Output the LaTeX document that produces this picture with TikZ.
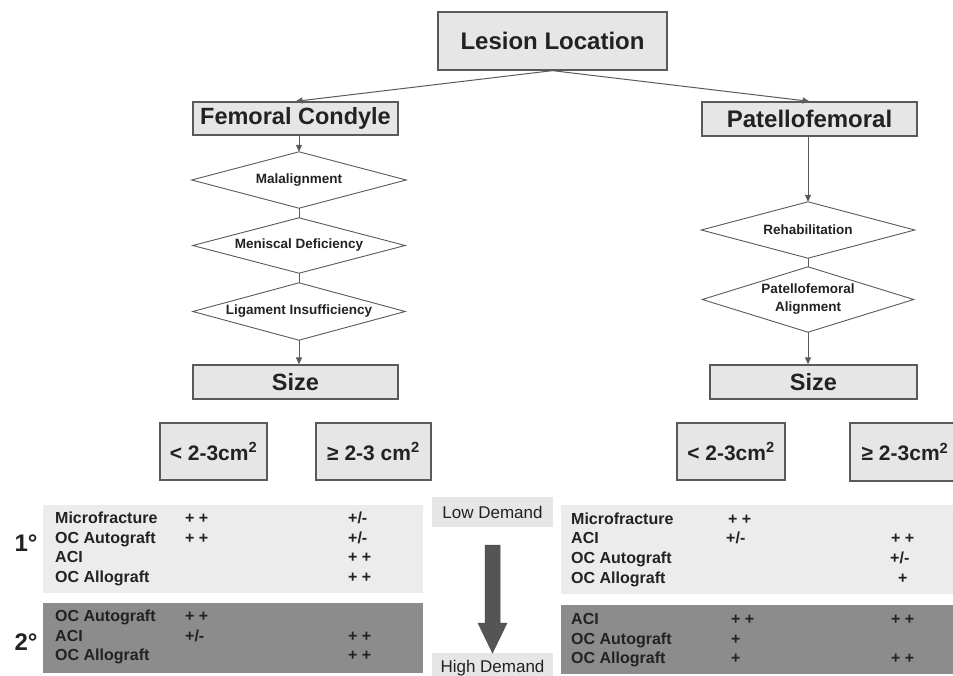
\documentclass[tikz,border=0pt]{standalone}
\usepackage{fontspec}
\setmainfont{Liberation Sans}
\usetikzlibrary{arrows.meta}
\definecolor{boxfill}{HTML}{E6E6E6}
\definecolor{boxline}{HTML}{5A5A5A}
\definecolor{lightpanel}{HTML}{ECECEC}
\definecolor{darkpanel}{HTML}{8C8C8C}
\definecolor{txt}{HTML}{222222}
\definecolor{arrowfill}{HTML}{555555}
\begin{document}
\begin{tikzpicture}[x=1pt,y=-1pt,
  box/.style={draw=boxline,fill=boxfill,line width=1.3pt,inner sep=0pt,text=txt,font=\bfseries\fontsize{23.5}{26}\selectfont},
  sbox/.style={box,font=\bfseries\fontsize{21}{24}\selectfont},
  diam/.style={rectangle,inner sep=0pt,text=txt,align=center,font=\bfseries\fontsize{13.5}{18}\selectfont},
  dline/.style={draw=boxline,line width=0.9pt,fill=white},
  conn/.style={draw=boxline,line width=1pt},
  arr/.style={conn,-{Triangle[length=7pt,width=6pt]}},
  panel/.style={draw=none,inner sep=0pt,anchor=north west},
  ptxt/.style={anchor=west,inner sep=0pt,text=txt,text height=1.5ex,text depth=.25ex,font=\bfseries\fontsize{16}{18}\selectfont},
  deg/.style={inner sep=0pt,text=txt,font=\bfseries\fontsize{24}{26}\selectfont},
  demand/.style={fill=boxfill,inner sep=0pt,text=txt,font=\fontsize{17}{19}\selectfont}
]
\useasboundingbox (0,0) rectangle (953,676);

% top boxes
\node[box,minimum width=229pt,minimum height=58pt,font=\bfseries\fontsize{24}{27}\selectfont] (les) at (552.5,41) {Lesion Location};
\node[box,minimum width=205pt,minimum height=33pt] (fc) at (295.5,118.5) {Femoral Condyle};
\node[box,minimum width=215pt,minimum height=34pt,font=\bfseries\fontsize{24}{27}\selectfont] (pf) at (809.5,119) {Patellofemoral};

% left diamonds (frames)
\node[diam,minimum width=214pt,minimum height=56pt] (d1) at (299,180) {};
\node[diam,minimum width=212pt,minimum height=55pt] (d2) at (299,245.5) {};
\node[diam,minimum width=212pt,minimum height=57pt] (d3) at (299,311.5) {};
% right diamonds (frames)
\node[diam,minimum width=213pt,minimum height=56pt] (r1) at (808,230) {};
\node[diam,minimum width=211pt,minimum height=65pt] (r2) at (808,299.5) {};
\foreach \n in {d1,d2,d3,r1,r2}
  \draw[dline] (\n.north) -- (\n.east) -- (\n.south) -- (\n.west) -- cycle;
\node[diam] (d1t) at (d1.center) {Malalignment};
\node[diam] (d2t) at (d2.center) {Meniscal Deficiency};
\node[diam] (d3t) at (d3.center) {Ligament Insufficiency};
\node[diam] (r1t) at (r1.center) {Rehabilitation};
\node[diam] (r2t) at (r2.center) {Patellofemoral\\Alignment};

% size boxes
\node[box,minimum width=205pt,minimum height=34pt] (lsize) at (295.5,382) {Size};
\node[box,minimum width=207pt,minimum height=34pt] (rsize) at (813.5,382) {Size};

\node[sbox,minimum width=107pt,minimum height=57pt] (llt) at (213.5,451.5) {< 2-3cm\textsuperscript{2}};
\node[sbox,minimum width=115pt,minimum height=57pt] (lge) at (373.5,451.5) {≥ 2-3 cm\textsuperscript{2}};
\node[sbox,minimum width=108pt,minimum height=57pt] (rlt) at (731,451.5) {< 2-3cm\textsuperscript{2}};
\node[sbox,minimum width=110pt,minimum height=58pt] (rge) at (905,452) {≥ 2-3cm\textsuperscript{2}};

% connectors
\draw[arr] (les.south) -- (fc.north);
\draw[arr] (les.south) -- (pf.north);
\draw[arr] (d1.north |- fc.south) -- (d1.north);
\draw[conn] (d1.south) -- (d2.north);
\draw[conn] (d2.south) -- (d3.north);
\draw[arr] (d3.south) -- (d3.south |- lsize.north);
\draw[arr] (r1.north |- pf.south) -- (r1.north);
\draw[conn] (r1.south) -- (r2.north);
\draw[arr] (r2.south) -- (r2.south |- rsize.north);

% panels
\node[panel,fill=lightpanel,minimum width=380pt,minimum height=88pt] (lp1) at (43,505) {};
\node[panel,fill=darkpanel,minimum width=380pt,minimum height=70pt] (lp2) at (43,603) {};
\node[panel,fill=lightpanel,minimum width=400pt,minimum height=89pt] (rp1) at (561,505) {};
\node[panel,fill=darkpanel,minimum width=400pt,minimum height=69pt] (rp2) at (561,605) {};

\node[deg] (deg1) at (26,543) {1°};
\node[deg] (deg2) at (26,642) {2°};

% left light rows
\node[ptxt] (a1) at (55,520) {Microfracture};
\node[ptxt] (a1b) at (185,520) {+ +};
\node[ptxt] (a1c) at (348,520) {+/-};
\node[ptxt] (a2) at (55,540) {OC Autograft};
\node[ptxt] (a2b) at (185,540) {+ +};
\node[ptxt] (a2c) at (348,540) {+/-};
\node[ptxt] (a3) at (55,559) {ACI};
\node[ptxt] (a3c) at (348,559) {+ +};
\node[ptxt] (a4) at (55,579) {OC Allograft};
\node[ptxt] (a4c) at (348,579) {+ +};
% left dark rows
\node[ptxt] (b1) at (55,618) {OC Autograft};
\node[ptxt] (b1b) at (185,618) {+ +};
\node[ptxt] (b2) at (55,638) {ACI};
\node[ptxt] (b2b) at (185,638) {+/-};
\node[ptxt] (b2c) at (348,638) {+ +};
\node[ptxt] (b3) at (55,657) {OC Allograft};
\node[ptxt] (b3c) at (348,657) {+ +};
% right light rows
\node[ptxt] (c1) at (571,521) {Microfracture};
\node[ptxt] (c1b) at (728,521) {+ +};
\node[ptxt] (c2) at (571,540) {ACI};
\node[ptxt] (c2b) at (726,540) {+/-};
\node[ptxt] (c2c) at (891,540) {+ +};
\node[ptxt] (c3) at (571,560) {OC Autograft};
\node[ptxt] (c3c) at (890,560) {+/-};
\node[ptxt] (c4) at (571,580) {OC Allograft};
\node[ptxt] (c4c) at (898,580) {+};
% right dark rows
\node[ptxt] (e1) at (571,621) {ACI};
\node[ptxt] (e1b) at (731,621) {+ +};
\node[ptxt] (e1c) at (891,621) {+ +};
\node[ptxt] (e2) at (571,641) {OC Autograft};
\node[ptxt] (e2b) at (731,641) {+};
\node[ptxt] (e3) at (571,660) {OC Allograft};
\node[ptxt] (e3b) at (731,660) {+};
\node[ptxt] (e3c) at (891,660) {+ +};

% demand
\node[demand,minimum width=121pt,minimum height=30pt] (low) at (492.5,512) {Low Demand};
\node[demand,minimum width=121pt,minimum height=30pt,anchor=north] (high) at (492.5,653) {High Demand};
\fill[arrowfill,draw=black!70,line width=0.5pt] (485,545) -- (500,545) -- (500,623) -- (507,623) -- (492.5,653) -- (478,623) -- (485,623) -- cycle;
\end{tikzpicture}
\end{document}
